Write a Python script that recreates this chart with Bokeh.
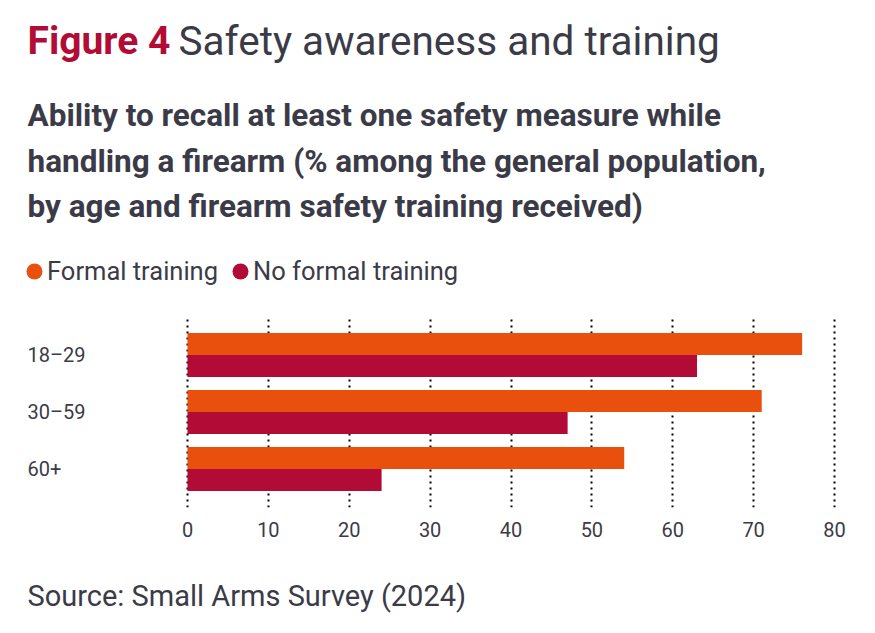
from bokeh.plotting import figure
from bokeh.models import (ColumnDataSource, FactorRange, Range1d, Label, Legend,
                          LegendItem, FixedTicker)
from bokeh.layouts import column
from bokeh.transform import dodge
from bokeh.core.properties import value
from bokeh.embed import file_html
from bokeh.resources import INLINE

# ---- data ----
age_groups = ["18–29", "30–59", "60+"]
formal_training = [76, 71, 54]
no_formal_training = [63, 47, 24]
x_ticks = [0, 10, 20, 30, 40, 50, 60, 70, 80]
series_names = ["Formal training", "No formal training"]

title_bold = "Figure 4"
title_rest = "Safety awareness and training"
subtitle_lines = [
    "Ability to recall at least one safety measure while",
    "handling a firearm (% among the general population,",
    "by age and firearm safety training received)",
]
source_text = "Source: Small Arms Survey (2024)"

ORANGE = "#E9500E"
CRIMSON = "#B10B36"
TEXT = "#3b3b48"
FONT = "Roboto"

W = 859
HEAD_H = 316       # header panel height (page px)
CHART_H = 244      # chart panel height
SRC_H = 57         # source panel height
X0_PX, X80_PX = 187, 834   # where 0 and 80 fall
scale = (X80_PX - X0_PX) / 80.0


def blank(h, y_top):
    f = figure(width=W, height=h, output_backend="svg", toolbar_location=None,
               x_range=Range1d(0, W), y_range=Range1d(y_top + h, y_top),
               min_border=0)
    f.axis.visible = False
    f.grid.visible = False
    f.outline_line_color = None
    return f


src = ColumnDataSource(dict(cat=age_groups, formal=formal_training,
                            noformal=no_formal_training))

# ---- header ----
head = blank(HEAD_H, 0)
head.add_layout(Label(x=27, y=40, text=title_bold, text_font=FONT,
                      text_font_style="bold", text_font_size="39px",
                      text_color=CRIMSON, text_baseline="alphabetic"))
head.add_layout(Label(x=178, y=40, text=title_rest, text_font=FONT,
                      text_font_size="40.5px", text_color=TEXT,
                      text_baseline="alphabetic"))
for i, line in enumerate(subtitle_lines):
    head.add_layout(Label(x=27, y=115 + 45.5 * i, text=line, text_font=FONT,
                          text_font_style="bold", text_font_size="31.5px",
                          text_color=TEXT, text_baseline="alphabetic"))

# legend proxies: the series mapped on a range that lies off the header's view
head.extra_x_ranges = {"proxy": Range1d(-1000, -900)}
head.extra_y_ranges = {"proxy": Range1d(-1000, -900)}
s1 = head.ellipse(x="formal", y="formal", source=src, width=16, height=16,
                  width_units="screen", height_units="screen",
                  fill_color=ORANGE, line_color=None,
                  x_range_name="proxy", y_range_name="proxy")
s2 = head.ellipse(x="noformal", y="noformal", source=src, width=16, height=16,
                  width_units="screen", height_units="screen",
                  fill_color=CRIMSON, line_color=None,
                  x_range_name="proxy", y_range_name="proxy")
legend = Legend(items=[LegendItem(label=series_names[0], renderers=[s1]),
                       LegendItem(label=series_names[1], renderers=[s2])],
                orientation="horizontal", location=(24, 30),
                label_text_font=FONT, label_text_font_size="25.5px",
                label_text_color=TEXT, glyph_width=20, glyph_height=20,
                label_standoff=3, spacing=12, padding=0, margin=0,
                border_line_color=None, background_fill_alpha=0,
                label_height=24)
head.add_layout(legend, "center")

# ---- chart ----
p = figure(width=W, height=CHART_H, output_backend="svg", toolbar_location=None,
           y_range=FactorRange(*list(reversed(age_groups)), range_padding=0.117),
           x_range=Range1d(-X0_PX / scale, 80 + (W - X80_PX) / scale),
           min_border_left=0, min_border_right=0, min_border_top=0,
           min_border_bottom=CHART_H - 191)
p.outline_line_color = None

p.hbar(y=dodge("cat", 0.193, range=p.y_range), right="formal", left=0,
       height=0.386, source=src, color=ORANGE, line_color=None)
p.hbar(y=dodge("cat", -0.193, range=p.y_range), right="noformal", left=0,
       height=0.386, source=src, color=CRIMSON, line_color=None)

p.text(x=0, y="cat", text="cat", source=src, x_offset=-(X0_PX - 27),
       text_align="left", text_baseline="middle", text_color=TEXT,
       text_font=value(FONT), text_font_size="20px")

p.yaxis.visible = False
p.ygrid.grid_line_color = None
p.xgrid.ticker = FixedTicker(ticks=x_ticks)
p.xgrid.grid_line_color = "black"
p.xgrid.grid_line_dash = "2 4"
p.xgrid.grid_line_width = 2

xa = p.xaxis[0]
xa.ticker = FixedTicker(ticks=x_ticks)
xa.axis_line_color = None
xa.major_tick_line_color = None
xa.minor_tick_line_color = None
xa.major_label_text_font = FONT
xa.major_label_text_font_size = "20px"
xa.major_label_text_color = TEXT
xa.major_label_standoff = 8

# ---- source ----
foot = blank(SRC_H, HEAD_H + CHART_H)
foot.add_layout(Label(x=27, y=595, text=source_text, text_font=FONT,
                      text_font_size="29px", text_color=TEXT,
                      text_baseline="alphabetic"))

layout = column(head, p, foot, spacing=0)
open("out.html", "w").write(file_html(layout, INLINE))
